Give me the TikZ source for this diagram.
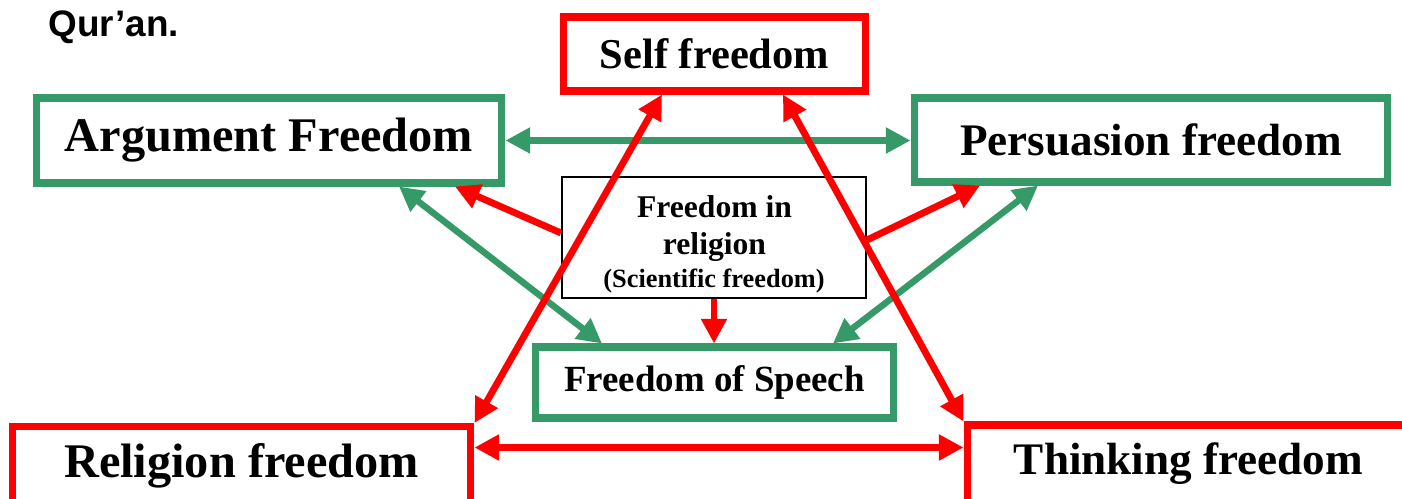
\documentclass[tikz,border=0pt]{standalone}
\usepackage{fontspec}
\setmainfont{Liberation Serif}
\newfontfamily\arialfont{Liberation Sans}
\usetikzlibrary{arrows.meta}

\definecolor{freegreen}{RGB}{54,154,104}
\definecolor{freered}{RGB}{255,0,0}

\tikzset{
    redbox/.style = {draw=freered, line width=4pt, inner sep=0pt, font=\bfseries},
    greenbox/.style = {draw=freegreen, line width=4pt, inner sep=0pt, font=\bfseries},
    redlink/.style = {freered, line width=3.9pt},
    greenlink/.style = {freegreen, line width=3.7pt},
    tip/.tip = {Triangle[length=14pt,width=14pt]}
}

\begin{document}
\begin{tikzpicture}[x=0.02cm, y=-0.02cm]
                \useasboundingbox (0,0) rectangle (1402,499);
                \clip (0,0) rectangle (1402,499);
                % heading left over from the slide
                \node[anchor=base west, inner sep=0pt, font=\arialfont\bfseries\fontsize{21}{25}\selectfont] (quran) at (48,37) {Qur’an.};
                % boxes
                \node[redbox, minimum width=6.06cm, minimum height=1.48cm, font=\bfseries\fontsize{24.2}{29}\selectfont] (self) at (714.5,54) {Self freedom};
                \node[greenbox, minimum width=9.32cm, minimum height=1.70cm, font=\bfseries\fontsize{27.5}{32}\selectfont] (arg) at (269,140.5) {Argument Freedom};
                \node[greenbox, minimum width=9.48cm, minimum height=1.68cm, font=\bfseries\fontsize{25.7}{30}\selectfont] (pers) at (1151,140) {Persuasion freedom};
                \node[draw=black, line width=1.2pt, minimum width=6.08cm, minimum height=2.42cm] (rel) at (714,237.5) {};
                \node[anchor=base, inner sep=0pt, font=\bfseries\fontsize{18}{21}\selectfont] (rel1) at (714.5,218) {Freedom in};
                \node[anchor=base, inner sep=0pt, font=\bfseries\fontsize{18}{21}\selectfont] (rel2) at (714.5,255) {religion};
                \node[anchor=base, inner sep=0pt, font=\bfseries\fontsize{15}{18}\selectfont] (rel3) at (714,288) {(Scientific freedom)};
                \node[greenbox, minimum width=7.18cm, minimum height=1.42cm, font=\bfseries\fontsize{21}{25}\selectfont] (speech) at (714.5,382.5) {Freedom of Speech};
                \node[redbox, minimum width=9.18cm, minimum height=1.58cm, font=\bfseries\fontsize{27.5}{32}\selectfont] (relig) at (241.5,466) {Religion freedom};
                \node[redbox, minimum width=8.86cm, minimum height=1.56cm, font=\bfseries\fontsize{25.7}{30}\selectfont] (think) at (1188.5,464) {Thinking freedom};
                % green links
                \draw[greenlink, tip-tip] (arg.east) -- (arg.east -| pers.west);
                \draw[greenlink, tip-tip] ([xshift=2.6cm]arg.south) -- ([xshift=-2.25cm]speech.north);
                \draw[greenlink, tip-tip] ([xshift=-2.26cm]pers.south) -- ([xshift=2.37cm]speech.north);
                % red links
                \draw[redlink, -tip] ([yshift=0.09cm]rel.west) -- ([xshift=3.72cm]arg.south);
                \draw[redlink, -tip] ([yshift=-0.05cm]rel.east) -- ([xshift=-3.42cm]pers.south);
                \draw[redlink, -tip] (rel.south) -- (rel.south |- speech.north);
                \draw[redlink, tip-tip] ([xshift=-1.05cm]self.south) -- (relig.north east);
                \draw[redlink, tip-tip] ([xshift=1.37cm]self.south) -- (think.north west);
                \draw[redlink, tip-tip] ([yshift=0.37cm]relig.east) -- ([yshift=0.37cm]relig.east -| think.west);
            \end{tikzpicture}
\end{document}
